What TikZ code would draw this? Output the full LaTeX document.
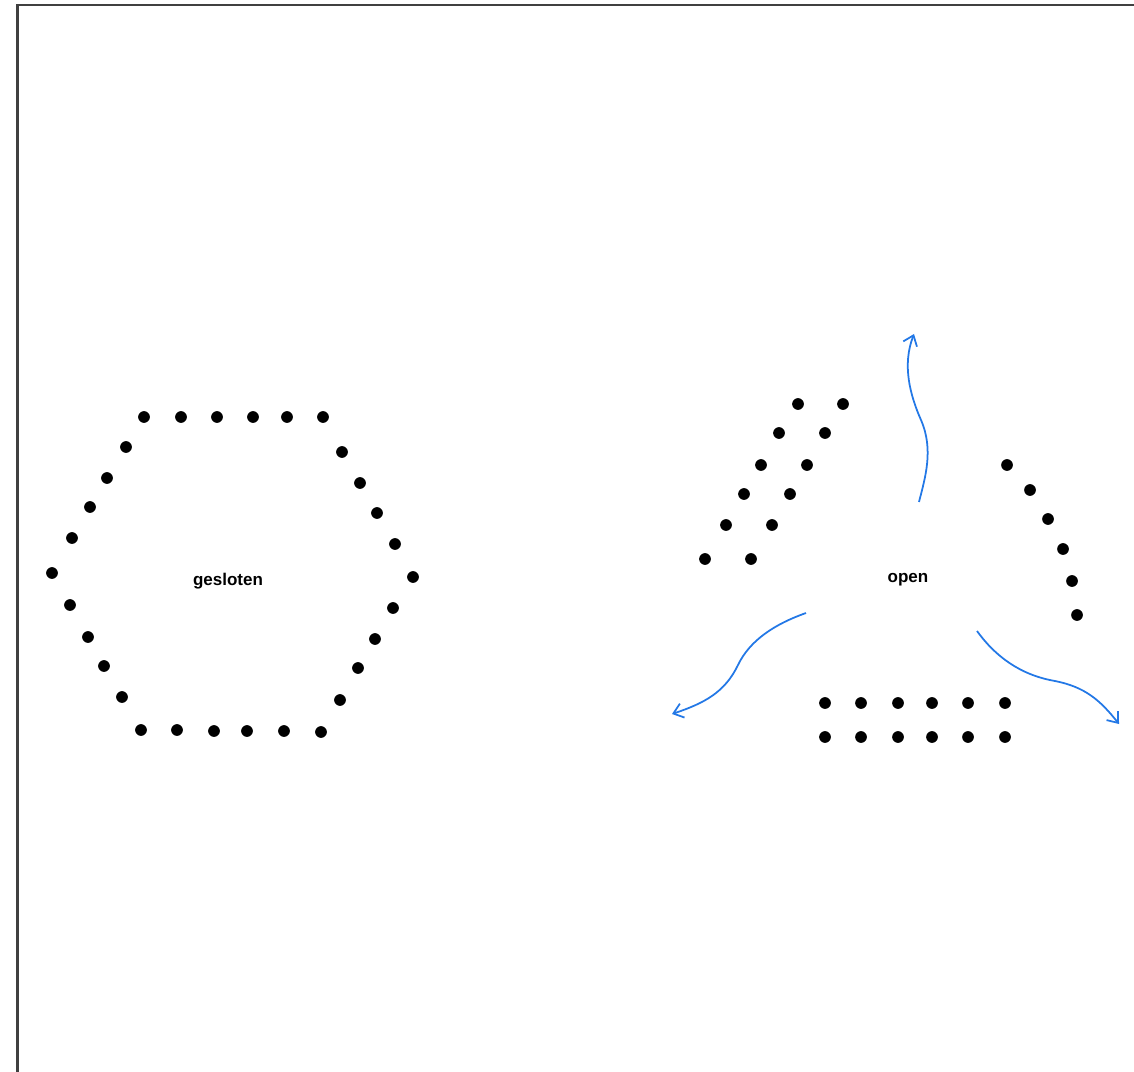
\documentclass[tikz,border=0pt]{standalone}
\usepackage{fontspec}
\setsansfont{Liberation Sans}
\usetikzlibrary{arrows.meta}

\definecolor{arrowblue}{RGB}{35,120,230}

\begin{document}
\begin{tikzpicture}[x=0.03cm,y=-0.03cm,
dot/.style={fill=black},
lbl/.style={font=\sffamily\bfseries\fontsize{14.5}{17}\selectfont,inner sep=1pt},
arr/.style={-{Straight Barb[length=2.8mm,width=4.4mm]},line width=1.5pt,arrowblue}]
\useasboundingbox (0,0) rectangle (1134,1072);
% frame
\draw[line width=1.8pt,black!75] (1134,4.7) -| (17.5,1072);
% closed ring
\foreach \x/\y in {144/417,181/417,217/417,253/417,287/417,323/417,
  126/447,107/478,90/507,72/538,52/573,70/605,88/637,104/666,122/697,
  141/730,177/730,214/731,247/731,284/731,321/732,
  342/452,360/483,377/513,395/544,413/577,393/608,375/639,358/668,340/700}
  \fill[dot] (\x,\y) circle[radius=5pt];
\node[lbl] (gesloten) at (228,581) {gesloten};
% open pieces
\foreach \x/\y in {798/404,843/404,779/433,825/433,761/465,807/465,
  744/494,790/494,726/525,772/525,705/559,751/559}
  \fill[dot] (\x,\y) circle[radius=5pt];
\foreach \x/\y in {1007/465,1030/490,1048/519,1063/549,1072/581,1077/615}
  \fill[dot] (\x,\y) circle[radius=5pt];
\foreach \x in {825,861,898,932,968,1005}{
  \fill[dot] (\x,703) circle[radius=5pt];
  \fill[dot] (\x,737) circle[radius=5pt];}
\node[lbl] (open) at (908,580) {open};
% arrows
\coordinate (upS) at (919,502);
\coordinate (upE) at (914,334);
\coordinate (leftS) at (806,613);
\coordinate (leftE) at (672,714);
\coordinate (rightS) at (977,631);
\coordinate (rightE) at (1119,724);
\draw[arr] (upS) .. controls (925,478) and (934,450) .. (921,420)
  .. controls (910,395) and (902,365) .. (upE);
\draw[arr] (leftS) .. controls (775,624) and (750,640) .. (738,665)
  .. controls (725,692) and (705,703) .. (leftE);
\draw[arr] (rightS) .. controls (995,656) and (1020,675) .. (1055,681)
  .. controls (1085,687) and (1100,700) .. (rightE);
\end{tikzpicture}
\end{document}
